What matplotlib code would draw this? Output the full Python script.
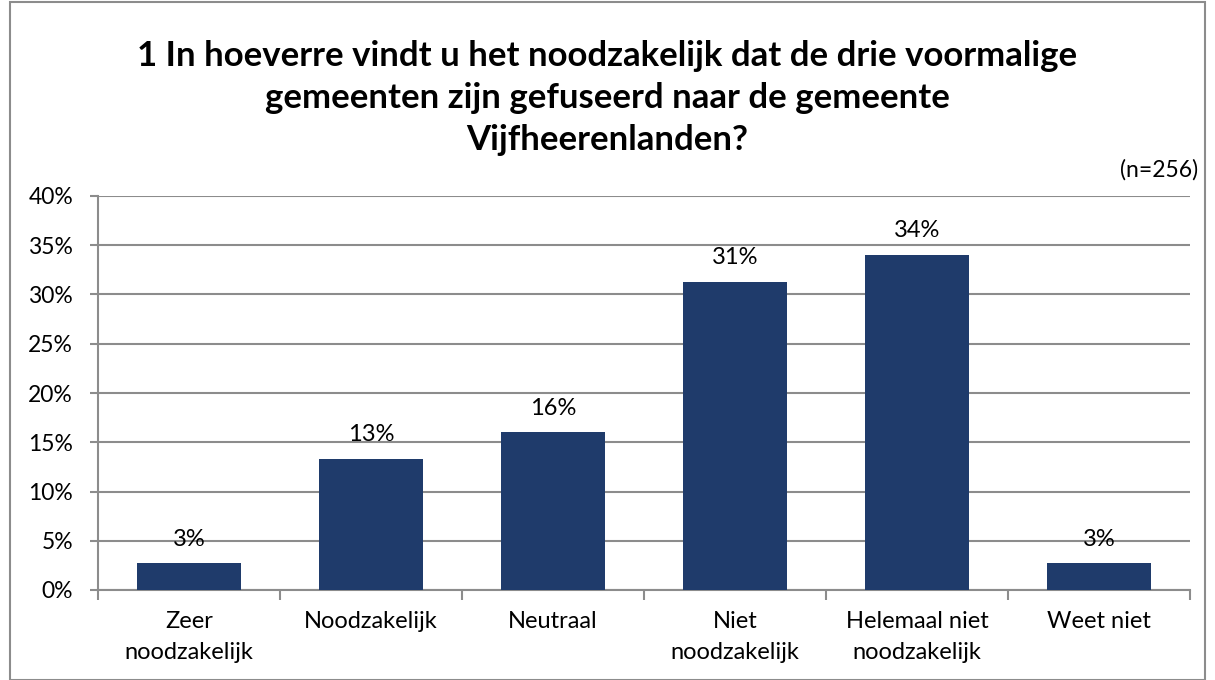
import matplotlib.pyplot as plt
from matplotlib.patches import Rectangle

# Data (n=256)
categories = ['Zeer\nnoodzakelijk', 'Noodzakelijk', 'Neutraal', 'Niet\nnoodzakelijk',
              'Helemaal niet\nnoodzakelijk', 'Weet niet']
percentages = [2.7, 13.3, 16.0, 31.25, 34.0, 2.7]
value_labels = ['3%', '13%', '16%', '31%', '34%', '3%']
y_ticks = [0, 5, 10, 15, 20, 25, 30, 35, 40]

plt.rcParams['font.family'] = ['Lato', 'DejaVu Sans']

fig = plt.figure(figsize=(12.15, 6.8), dpi=100)
ax = fig.add_axes([98 / 1215, 1 - 590 / 680, (1190 - 98) / 1215, (590 - 196) / 680])

bar_color = '#1F3B6B'
grid_color = '#8C8C8C'

x = list(range(len(categories)))
ax.bar(x, percentages, width=0.57, color=bar_color, zorder=3)

for xi, v, lab in zip(x, percentages, value_labels):
    ax.annotate(lab, (xi, v), xytext=(0, 10), textcoords='offset points',
                ha='center', va='bottom', fontsize=17, color='black', zorder=4)

ax.set_xlim(-0.5, len(categories) - 0.5)
ax.set_ylim(0, 40)
ax.set_yticks(y_ticks)
ax.set_yticklabels([f'{t}%' for t in y_ticks], fontsize=16.5)
ax.yaxis.grid(True, color=grid_color, linewidth=1.5, zorder=0)

# x ticks at category boundaries, labels centered
ax.set_xticks([i - 0.5 for i in range(len(categories) + 1)])
ax.set_xticklabels([])
ax.set_xticks(x, minor=True)
ax.set_xticklabels(categories, minor=True, fontsize=17, linespacing=1.6)
ax.tick_params(axis='x', which='major', length=7, width=1.5, color=grid_color, direction='out')
ax.tick_params(axis='x', which='minor', length=0, pad=15)
ax.tick_params(axis='y', length=6, width=1.5, color=grid_color, pad=12)

for side in ['top', 'right']:
    ax.spines[side].set_visible(False)
for side in ['left', 'bottom']:
    ax.spines[side].set_color(grid_color)
    ax.spines[side].set_linewidth(1.5)

fig.text(0.5, 1 - 98 / 680, '1 In hoeverre vindt u het noodzakelijk dat de drie voormalige\n'
         'gemeenten zijn gefuseerd naar de gemeente\nVijfheerenlanden?',
         ha='center', va='center', fontsize=25, fontweight='bold', linespacing=1.4)
fig.text(1198 / 1215, 1 - 170 / 680, '(n=256)', ha='right', va='center', fontsize=16.5)

# chart border
fig.patches.append(Rectangle((10 / 1215, 0), 1 - 20 / 1215, 1 - 2 / 680,
                             transform=fig.transFigure, fill=False,
                             edgecolor=grid_color, linewidth=1.5))

fig.savefig('out.png', dpi=100)
